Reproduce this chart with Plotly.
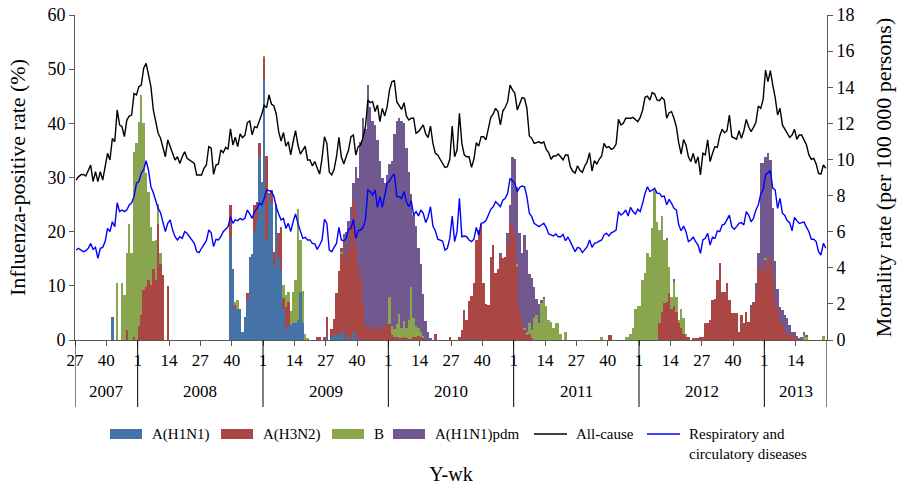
import plotly.graph_objects as go

# ---------------- categories (2007 wk27 .. 2013 wk26) ----------------
years = [2007, 2008, 2009, 2010, 2011, 2012, 2013]
first_week_2007 = 27
last_week_2013 = 26
tick_weeks = [1, 14, 27, 40]

# ---------------- mortality lines (per 100 000 persons), one value per week ----------------
all_cause = [
    # 2007 wk27-52
    8.86, 9.05, 9.16, 9.17, 9.08, 9.41, 9.69, 8.77, 9.32, 8.77, 9.32, 8.86, 9.51, 10.34, 9.97, 11.17,
    10.98, 12.74, 11.91, 11.81, 11.26, 12.18, 12.4, 12.46, 13.66, 13.57,
    # 2008
    14.03, 14.12, 15.05, 15.32, 14.68, 14.03, 12.74, 12.18, 11.45, 11.17, 10.71, 10.15, 11.08, 10.71,
    10.34, 9.97, 10.15, 9.78, 10.15, 10.43, 10.06, 9.97, 9.88, 9.78, 9.14, 9.14, 9.14, 9.51,
    9.69, 10.71, 10.62, 9.17, 9.69, 9.75, 10.52, 10.37, 10.67, 10.56, 11.69, 10.8, 11.23, 10.71,
    11.41, 11.21, 11.34, 12.04, 12.13, 11.36, 11.81, 11.76, 12.09, 12.52,
    # 2009
    13.0, 12.87, 13.57, 13.07, 12.96, 12.52, 11.54, 11.02, 11.49, 10.74, 10.98, 10.25, 10.98, 11.59,
    10.8, 10.3, 10.52, 10.74, 9.97, 9.97, 9.64, 9.88, 9.51, 9.19, 10.06, 11.26, 10.89, 9.3,
    9.14, 9.45, 10.15, 11.22, 10.15, 9.75, 10.15, 10.52, 11.26, 11.35, 10.25, 10.71, 10.8, 11.22,
    11.81, 13.29, 13.14, 13.2, 12.65, 13.01, 12.09, 12.83, 12.41, 12.92,
    # 2010
    13.85, 14.31, 14.36, 13.2, 12.98, 12.77, 13.14, 12.41, 12.18, 12.28, 12.28, 11.45, 11.54, 11.72,
    11.91, 11.41, 11.21, 11.85, 10.89, 10.34, 10.25, 10.01, 9.78, 9.56, 9.6, 10.01, 11.85, 10.15,
    10.52, 12.55, 10.89, 10.25, 10.15, 10.15, 9.56, 10.01, 10.93, 10.74, 11.26, 11.26, 11.08, 11.72,
    12.33, 12.52, 12.83, 12.65, 11.91, 12.68, 12.89, 13.2, 14.12, 13.85,
    # 2011
    13.66, 12.74, 13.14, 13.42, 13.38, 12.83, 11.3, 11.17, 10.89, 10.93, 10.98, 10.89, 10.98, 10.56,
    10.38, 10.01, 10.19, 10.19, 10.3, 10.15, 9.97, 10.25, 10.25, 9.6, 9.35, 9.25, 9.65, 9.4,
    9.29, 9.64, 9.88, 10.37, 9.36, 9.93, 9.75, 10.01, 10.19, 10.89, 10.65, 10.71, 10.56, 10.62,
    10.85, 12.22, 11.91, 12.0, 12.28, 12.28, 12.28, 12.33, 12.18, 12.09,
    # 2012
    12.33, 12.74, 13.44, 13.51, 13.29, 13.7, 13.62, 13.29, 13.25, 13.44, 13.29, 12.28, 12.59, 12.65,
    12.28, 11.81, 10.9, 10.3, 11.1, 10.8, 10.15, 9.88, 10.34, 9.78, 10.15, 9.14, 10.34, 10.25,
    11.08, 9.88, 10.34, 10.71, 10.67, 11.3, 11.67, 11.48, 11.59, 12.46, 11.26, 11.17, 11.12, 11.59,
    11.17, 11.59, 12.22, 11.81, 11.54, 11.78, 12.04, 12.96, 12.83, 13.33,
    # 2013 wk1-26
    14.95, 14.31, 14.92, 14.12, 13.44, 12.46, 12.83, 11.91, 11.67, 11.41, 11.22, 11.35, 11.67, 11.12,
    11.35, 11.35, 11.08, 10.8, 10.25, 10.01, 10.06, 9.75, 9.23, 9.19, 9.69, 9.51,
]

resp_circ = [
    # 2007 wk27-52
    4.98, 5.08, 4.98, 4.89, 4.95, 5.08, 5.35, 5.02, 5.13, 4.52, 5.08, 5.13, 5.45, 6.18, 6.0, 6.55,
    6.28, 7.6, 7.11, 7.2, 7.11, 7.2, 7.48, 7.6, 7.94, 8.68,
    # 2008
    8.77, 9.23, 9.45, 9.93, 9.4, 8.49, 8.16, 7.66, 7.29, 7.05, 6.46, 6.0, 6.46, 6.65,
    6.09, 5.72, 5.54, 5.72, 5.63, 6.0, 5.91, 5.72, 5.58, 5.35, 4.89, 4.84, 5.08, 5.26,
    5.5, 6.09, 5.94, 5.17, 5.58, 5.54, 5.72, 6.0, 6.13, 6.28, 6.83, 6.46, 6.65, 6.61,
    6.74, 6.65, 6.74, 7.2, 6.98, 6.74, 7.11, 7.29, 7.57, 7.48,
    # 2009
    7.85, 8.31, 8.27, 8.22, 7.97, 7.38, 6.98, 6.65, 6.74, 6.18, 6.46, 6.0, 6.55, 6.98,
    6.46, 6.05, 5.63, 5.69, 5.54, 5.54, 5.35, 5.32, 5.02, 5.26, 5.54, 6.68, 6.46, 4.98,
    4.89, 5.13, 5.35, 6.24, 5.54, 5.5, 5.63, 6.13, 6.18, 6.68, 5.63, 6.05, 6.09, 6.24,
    6.65, 8.31, 8.22, 8.03, 8.31, 7.35, 7.94, 7.35, 8.03, 8.68,
    # 2010
    8.82, 9.05, 9.19, 7.94, 7.94, 7.83, 8.22, 7.66, 7.38, 7.72, 6.92, 7.11, 6.87, 7.2,
    7.02, 6.5, 6.83, 7.38, 6.31, 6.05, 5.58, 5.54, 5.48, 4.98, 5.08, 5.63, 6.87, 5.45,
    6.0, 7.85, 5.72, 5.76, 5.72, 5.54, 5.45, 5.58, 6.24, 5.8, 6.46, 6.5, 6.61, 6.92,
    7.24, 7.38, 7.66, 7.53, 7.38, 7.75, 7.85, 8.12, 8.95, 8.82,
    # 2011
    8.68, 8.22, 8.45, 8.53, 8.49, 7.94, 7.02, 6.83, 6.46, 6.37, 6.28, 6.37, 6.46, 6.24,
    5.87, 5.82, 5.76, 5.87, 5.72, 5.72, 5.85, 5.5, 5.69, 5.45, 5.13, 4.89, 5.13, 5.08,
    4.84, 5.02, 5.17, 5.54, 5.13, 5.35, 5.39, 5.48, 5.54, 5.82, 5.91, 5.76, 5.94, 6.0,
    6.09, 7.11, 6.92, 7.02, 7.2, 6.87, 7.35, 7.11, 6.98, 7.24,
    # 2012
    7.11, 7.57, 8.12, 8.49, 8.22, 8.31, 8.4, 8.12, 8.12, 7.94, 7.97, 7.48, 7.79, 7.57,
    7.29, 7.2, 6.37, 6.05, 6.31, 6.0, 5.45, 5.54, 5.69, 5.45, 5.26, 4.8, 5.54, 5.63,
    5.91, 5.26, 5.69, 5.63, 6.04, 6.0, 6.37, 6.42, 6.65, 6.92, 6.28, 6.13, 6.28, 6.46,
    6.5, 6.37, 7.11, 6.92, 6.55, 6.74, 7.2, 7.48, 8.08, 8.31,
    # 2013 wk1-26
    9.14, 9.27, 9.38, 8.4, 8.31, 7.29, 7.85, 7.02, 6.9, 6.61, 6.5, 6.05, 6.79, 6.61,
    6.46, 6.5, 6.53, 6.24, 6.0, 5.58, 5.58, 5.45, 4.89, 4.71, 5.35, 5.08,
]

# ---------------- influenza-positive rate (%), weeks with a positive value (week index: value) ----------------
h1n1 = {
    15: 4.3,
    64: 18.8, 65: 13.2, 66: 5.5, 67: 5.8, 68: 5.8, 69: 1.5, 70: 4.3, 71: 7.3, 72: 15.4, 73: 15.9,
    74: 20.2, 75: 22.0, 76: 33.8, 77: 29.2, 78: 48.0, 79: 18.5, 80: 27.2, 81: 25.2, 82: 13.5,
    83: 25.2, 84: 15.1, 85: 12.9, 86: 5.8, 87: 1.8, 88: 2.8, 89: 2.8, 90: 3.2, 91: 3.1, 92: 3.7,
    93: 8.9, 94: 3.1, 104: 0.9, 106: 0.5, 107: 1.0, 108: 1.2, 109: 0.8, 110: 1.5, 111: 1.5,
    113: 0.8, 115: 1.5, 117: 0.6, 163: 0.3,
}
h3n2 = {
    21: 1.8, 24: 0.5, 26: 2.5, 27: 4.6, 28: 9.2, 29: 9.8, 30: 11.1, 31: 10.2, 32: 13.2, 33: 11.1,
    34: 21.5, 35: 14.0, 36: 12.0, 38: 10.0,
    64: 6.2, 66: 1.0, 71: 1.4, 74: 4.7, 75: 3.5, 76: 2.5, 78: 4.0, 79: 15.4, 81: 2.5, 82: 2.8,
    84: 4.6, 85: 8.0, 86: 2.0, 87: 4.3, 88: 4.3, 100: 0.5, 101: 0.5, 103: 0.5, 104: 3.4,
    106: 1.5, 107: 2.8, 108: 7.5, 109: 12.0, 110: 14.5, 111: 17.0, 112: 14.5, 113: 16.0, 114: 21.0,
    115: 24.2, 116: 17.0, 117: 13.5, 118: 12.0, 119: 7.0, 120: 2.5, 121: 2.8, 122: 2.2, 123: 1.8,
    124: 2.8, 125: 1.8, 126: 2.5, 127: 2.0, 128: 3.0, 129: 2.5, 130: 3.0, 131: 1.0, 132: 0.5,
    133: 0.5, 134: 0.3, 135: 0.3, 136: 0.5, 137: 0.3, 138: 0.2, 139: 0.2, 140: 0.5, 141: 0.5,
    142: 0.8, 143: 0.5, 144: 0.3, 149: 1.2, 155: 0.6,
    159: 0.6, 160: 1.8, 161: 5.2, 162: 3.7, 163: 6.9, 164: 8.1, 165: 10.5, 166: 18.5, 167: 20.3,
    168: 21.5, 169: 10.6, 170: 6.6, 171: 6.5, 172: 15.1, 173: 17.5, 174: 12.3, 175: 13.2,
    176: 15.4, 177: 15.1, 178: 15.4, 179: 17.5, 180: 21.5, 181: 20.9, 182: 19.1, 183: 13.5,
    184: 5.5, 185: 3.4, 186: 1.8, 187: 0.9, 188: 1.2, 189: 0.3,
    221: 0.9, 222: 0.9, 242: 3.1, 243: 5.2, 244: 6.9, 245: 7.1, 246: 8.6, 247: 5.8, 248: 6.2,
    249: 5.2, 250: 3.1, 251: 2.2, 252: 1.2, 253: 0.6, 254: 0.6, 256: 0.3, 257: 0.3, 258: 0.3,
    259: 0.5, 260: 0.5, 261: 3.1, 262: 3.1, 263: 3.7, 264: 7.4, 265: 7.6, 266: 11.1, 267: 14.2,
    268: 8.9, 269: 8.9, 270: 10.5, 271: 7.4, 272: 4.9, 273: 4.9, 274: 4.9, 275: 1.5, 276: 4.6,
    277: 3.2, 278: 5.2, 279: 3.4, 280: 6.2, 281: 6.5, 282: 8.3, 283: 13.5, 284: 13.2, 285: 12.3,
    286: 14.8, 287: 13.0, 288: 15.1, 289: 11.7, 290: 7.4, 291: 5.8, 292: 3.4, 293: 2.8, 294: 1.8,
    295: 1.2, 296: 0.9, 297: 1.1, 298: 0.6, 299: 0.3,
}
flu_b = {
    17: 10.6, 19: 10.6, 20: 8.3, 21: 14.3, 22: 21.5, 23: 16.0, 24: 34.3, 25: 36.3, 26: 37.8,
    27: 40.6, 28: 30.8, 29: 21.0, 30: 16.3, 31: 10.7, 32: 5.0, 33: 7.4, 34: 3.7, 35: 2.0,
    66: 0.6, 67: 1.5, 78: 0.4, 86: 2.3, 87: 2.2, 88: 1.8, 89: 2.5, 90: 5.7, 91: 8.0, 92: 20.5,
    93: 9.5, 94: 6.0, 95: 1.2, 96: 0.3,
    110: 0.3, 111: 0.3, 130: 5.0, 131: 1.5, 132: 1.5, 133: 2.5, 134: 4.5, 135: 2.0, 136: 3.0,
    137: 2.0, 138: 3.5, 139: 9.5, 140: 3.5, 141: 2.0, 142: 1.5, 143: 1.0, 144: 0.5,
    183: 0.5, 186: 0.5, 187: 0.6, 188: 1.9, 189: 1.5, 190: 4.0, 191: 4.6, 192: 3.1, 193: 6.8,
    194: 7.7, 195: 6.2, 196: 3.7, 197: 3.4, 198: 2.2, 199: 3.1, 200: 3.2, 201: 1.2, 203: 1.4,
    218: 0.5, 228: 0.6, 229: 0.6, 230: 1.2, 231: 2.2, 232: 5.7, 233: 6.2, 234: 6.2, 235: 11.1,
    236: 12.3, 237: 16.0, 238: 15.4, 239: 20.6, 240: 27.7, 241: 21.8, 242: 17.2, 243: 17.7,
    244: 11.6, 245: 11.4, 246: 4.9, 247: 2.2, 248: 4.6, 249: 2.8, 250: 0.6, 251: 3.6, 252: 2.8,
    253: 0.6, 286: 0.3, 302: 0.9, 303: 0.6, 310: 0.7,
}
h1n1_pdm = {
    110: 0.7, 111: 0.7, 112: 5.5, 113: 5.2, 114: 3.5, 115: 3.3, 116: 15.0, 117: 15.9, 118: 24.5,
    119: 34.0, 120: 36.5, 121: 44.2, 122: 40.8, 123: 38.7, 124: 36.9, 125: 35.2, 126: 30.5,
    127: 28.0, 128: 26.0, 129: 28.0, 130: 24.5, 131: 30.5, 132: 36.0, 133: 37.5, 134: 36.2,
    135: 38.2, 136: 36.5, 137: 33.2, 138: 27.3, 139: 17.3, 140: 19.0, 141: 18.5, 142: 14.7,
    143: 12.5, 144: 7.7, 145: 3.5, 146: 1.5, 147: 0.3,
    161: 0.3, 172: 0.3, 176: 0.6, 179: 2.2, 180: 3.4, 181: 12.9, 182: 14.4, 183: 14.3, 184: 14.2,
    185: 12.6, 186: 17.1, 187: 15.1, 188: 9.0, 189: 9.6, 190: 5.8, 191: 3.0, 192: 3.5, 193: 0.6,
    194: 0.3, 245: 0.2, 248: 0.5,
    280: 0.3, 281: 0.5, 282: 2.2, 283: 2.5, 284: 19.4, 285: 20.3, 286: 18.7, 287: 21.5, 288: 18.1,
    289: 12.6, 290: 7.1, 291: 3.7, 292: 2.7, 293: 2.7, 294: 2.8, 295: 2.8, 296: 1.9, 297: 0.4,
    298: 0.8, 299: 0.4, 300: 0.3, 301: 0.6, 302: 0.6, 303: 0.3,
}

# ---------------- build weekly categories ----------------
cat_year, cat_week = [], []
for yr in years:
    w_start = first_week_2007 if yr == years[0] else 1
    w_end = last_week_2013 if yr == years[-1] else 52
    for wk in range(w_start, w_end + 1):
        cat_year.append(yr)
        cat_week.append(wk)
n = len(cat_week)
x = list(range(n))


def dense(d):
    return [d.get(i, 0) for i in range(n)]


FONT = "Liberation Serif, Times New Roman, serif"

FIG_W, FIG_H = 904, 485
M_L, M_R, M_T, M_B = 75, 77, 15, 145
PLOT_W = FIG_W - M_L - M_R
PLOT_H = FIG_H - M_T - M_B
PLOT_Y1 = FIG_H - M_B


def px_x(px):
    return (px - M_L) / PLOT_W


def px_y(py):
    return (PLOT_Y1 - py) / PLOT_H


fig = go.Figure()
bar_series = [
    ("A(H1N1)", h1n1, "#4572A7"),
    ("A(H3N2)", h3n2, "#AA4643"),
    ("B", flu_b, "#89A54E"),
    ("A(H1N1)pdm", h1n1_pdm, "#71588F"),
]
for name, d, col in bar_series:
    fig.add_trace(go.Bar(x=x, y=dense(d), name=name, marker=dict(color=col, line=dict(width=0)),
                         yaxis="y", showlegend=False))

line_series = [
    ("All-cause", all_cause, "black"),
    ("Respiratory and<br>circulatory diseases", resp_circ, "#0000FF"),
]
for name, vals, col in line_series:
    fig.add_trace(go.Scatter(x=x[:len(vals)], y=vals, name=name, mode="lines",
                             line=dict(color=col, width=1.4), yaxis="y2", showlegend=False))

# tick positions at category boundaries for weeks 1, 14, 27, 40
tickvals = [i - 0.5 for i in x if cat_week[i] in tick_weeks]
ticktext = [str(cat_week[i]) for i in x if cat_week[i] in tick_weeks]

# year boundaries and labels
bounds = [i - 0.5 for i in x if i == 0 or cat_year[i] != cat_year[i - 1]] + [n - 0.5]
shapes, annotations = [], []
for b in bounds:
    shapes.append(dict(type="line", xref="x", yref="paper", x0=b, x1=b, y0=0, y1=px_y(407),
                       line=dict(color="black", width=1)))
for k, yr in enumerate(years):
    annotations.append(dict(x=(bounds[k] + bounds[k + 1]) / 2, y=px_y(391), xref="x", yref="paper",
                            text=str(yr), showarrow=False, yanchor="middle",
                            font=dict(family=FONT, size=17, color="black")))

# legend drawn below the axis (wide swatches like the original)
legend_items = [
    ("A(H1N1)", "bar", "#4572A7", 110),
    ("A(H3N2)", "bar", "#AA4643", 221),
    ("B", "bar", "#89A54E", 332),
    ("A(H1N1)pdm", "bar", "#71588F", 393),
    ("All-cause", "line", "black", 534),
    ("Respiratory and<br>circulatory diseases", "line", "#0000FF", 647),
]
LEG_Y = 434
for label, kind, col, x_px in legend_items:
    if kind == "bar":
        shapes.append(dict(type="rect", xref="paper", yref="paper", x0=px_x(x_px), x1=px_x(x_px + 32),
                           y0=px_y(LEG_Y + 5), y1=px_y(LEG_Y - 5), line=dict(width=0), fillcolor=col))
    else:
        shapes.append(dict(type="line", xref="paper", yref="paper", x0=px_x(x_px), x1=px_x(x_px + 33),
                           y0=px_y(LEG_Y), y1=px_y(LEG_Y), line=dict(color=col, width=1.5)))
    multi = "<br>" in label
    annotations.append(dict(x=px_x(x_px + 40), y=px_y(LEG_Y - 10) if multi else px_y(LEG_Y),
                            xref="paper", yref="paper", text=label, showarrow=False,
                            xanchor="left", yanchor="top" if multi else "middle", align="left",
                            font=dict(family=FONT, size=15, color="black")))

axis_line = "#595959"
fig.update_layout(
    width=FIG_W, height=FIG_H,
    margin=dict(l=M_L, r=M_R, t=M_T, b=M_B),
    paper_bgcolor="white", plot_bgcolor="white",
    font=dict(family=FONT, size=17, color="black"),
    barmode="stack", bargap=0,
    showlegend=False,
    xaxis=dict(range=[-0.5, n - 0.5], tickmode="array", tickvals=tickvals, ticktext=ticktext,
               ticks="outside", ticklen=5, tickcolor=axis_line, showline=True, linecolor=axis_line,
               showgrid=False, zeroline=False, tickfont=dict(size=17),
               title=dict(text="Y-wk", font=dict(size=20), standoff=100), automargin=False),
    yaxis=dict(range=[0, 60], dtick=10, ticks="outside", ticklen=5, tickcolor=axis_line,
               showline=True, linecolor=axis_line, showgrid=False, zeroline=False,
               tickfont=dict(size=18), ticklabeloverflow="allow",
               title=dict(text="Influenza-positive rate (%)", font=dict(size=22), standoff=15),
               automargin=False),
    yaxis2=dict(range=[0, 18], dtick=2, overlaying="y", side="right", ticks="outside", ticklen=5,
                tickcolor=axis_line, showline=True, linecolor=axis_line, showgrid=False,
                zeroline=False, tickfont=dict(size=18), ticklabeloverflow="allow",
                title=dict(text="Mortality rate (per 100 000 persons)", font=dict(size=22), standoff=22),
                automargin=False),
    shapes=shapes,
    annotations=annotations,
)

# remove the browser's default 8px body margin so the figure sits at the page origin
fig.write_html("out.html", config={"displayModeBar": False},
               post_script="document.body.style.margin='0';")
